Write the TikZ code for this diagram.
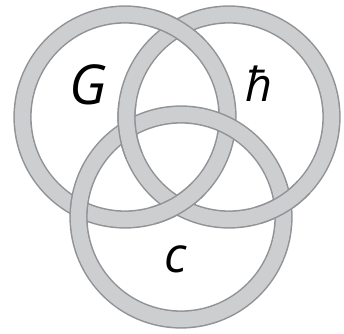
\documentclass[tikz,border=0pt]{standalone}
\usepackage{fontspec}
\setmainfont{Open Sans}
\usetikzlibrary{calc}
\definecolor{RingEdge}{RGB}{146,147,150}
\definecolor{RingFill}{RGB}{205,206,208}
\begin{document}
\begin{tikzpicture}[
  x=0.03cm,y=0.03cm,
  ring/.style={draw=RingEdge,line width=1.3pt,double=RingFill,double distance=13pt},
  ringedge/.style={draw=RingEdge,line width=15.6pt},
  ringfill/.style={draw=RingFill,line width=13pt},
  lbl/.style={anchor=base,inner sep=0pt,text=black},
]
\useasboundingbox (0,0) rectangle (344,333);
\coordinate (G) at (125,216);
\coordinate (H) at (229,216);
\coordinate (C) at (181,116);
\draw[ring] (G) circle[radius=102.5];
\draw[ring] (H) circle[radius=102.5];
\draw[ring] (C) circle[radius=102.5];
\foreach \c/\a in {H/187.3,H/-58.6,G/59.4,G/-59.4}{
  \draw[ringedge] ($(\c)+(\a-15:102.5)$) arc[start angle=\a-15,end angle=\a+15,radius=102.5];
  \draw[ringfill] ($(\c)+(\a-18:102.5)$) arc[start angle=\a-18,end angle=\a+18,radius=102.5];
}
\node[lbl,font=\fontsize{47}{47}\selectfont\itshape] (labG) at (88,228) {G};
\node[lbl,font=\fontsize{40}{40}\selectfont\itshape] (labH) at (259,231) {ħ};
\node[lbl,font=\fontsize{42}{42}\selectfont\itshape] (labC) at (176,61) {c};
\end{tikzpicture}
\end{document}
